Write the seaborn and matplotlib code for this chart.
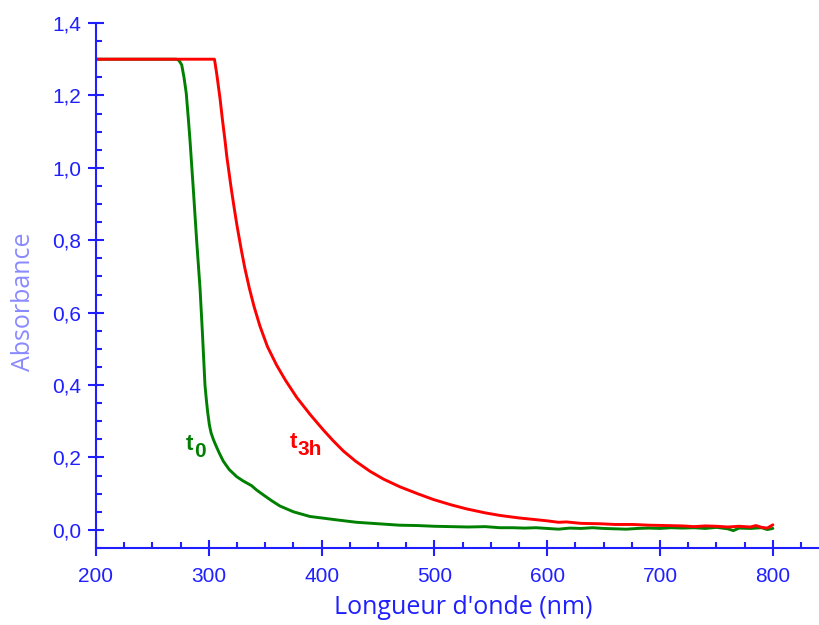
import numpy as np
import pandas as pd
import matplotlib
matplotlib.use("Agg")
import matplotlib.pyplot as plt
import seaborn as sns
from matplotlib.ticker import MultipleLocator, FuncFormatter

# ---- data ----
t0_wavelength = [200, 271, 273, 274.5, 276, 278, 280, 282, 283.3, 286.3, 289.2, 292.2, 294.2,
                 296.6, 297.8, 299, 300.5, 302, 304, 306, 309, 312.8, 318, 324.7, 330, 334,
                 338, 342.4, 350, 356, 363, 375, 389.7, 400, 415, 431, 450, 469, 485, 500, 515,
                 530, 545, 558, 570, 580, 590, 600, 610, 620, 630, 640, 650, 660, 670, 680,
                 690, 700, 710, 720, 730, 740, 750, 760, 765, 770, 780, 790, 795, 800]
t0_absorbance = [1.30, 1.30, 1.298, 1.292, 1.284, 1.25, 1.206, 1.13, 1.077, 0.939, 0.80, 0.668, 0.552,
                 0.40, 0.36, 0.325, 0.29, 0.268, 0.25, 0.235, 0.214, 0.19, 0.167, 0.147, 0.136, 0.129,
                 0.122, 0.110, 0.093, 0.080, 0.066, 0.050, 0.037, 0.033, 0.027, 0.021, 0.017, 0.013, 0.012,
                 0.010, 0.009, 0.008, 0.009, 0.006, 0.006, 0.005, 0.006, 0.004, 0.002, 0.005, 0.004,
                 0.006, 0.004, 0.003, 0.002, 0.004, 0.005, 0.004, 0.006, 0.005, 0.006, 0.004, 0.007,
                 0.003, -0.002, 0.005, 0.004, 0.006, 0.001, 0.004]

t3h_wavelength = [200, 305, 307, 310, 312, 314.3, 316, 318, 320, 322.3, 325, 329, 332, 335.9,
                  340, 345.3, 352, 360.1, 368, 377.9, 390, 401.5, 410, 419.2, 430, 442.8, 455,
                  469.4, 485, 499, 515, 528.5, 545, 558, 575, 587.6, 600, 610, 617, 630, 646.7,
                  660, 676, 690, 705.8, 720, 730, 740, 750, 760, 770, 780, 785, 790, 795, 800]
t3h_absorbance = [1.30, 1.30, 1.26, 1.19, 1.135, 1.077, 1.03, 0.985, 0.94, 0.893, 0.84, 0.77, 0.722,
                  0.668, 0.618, 0.563, 0.506, 0.455, 0.413, 0.366, 0.318, 0.276, 0.247, 0.218,
                  0.190, 0.162, 0.140, 0.119, 0.10, 0.084, 0.069, 0.058, 0.047, 0.040, 0.033,
                  0.029, 0.025, 0.021, 0.022, 0.018, 0.017, 0.015, 0.015, 0.013, 0.012, 0.011,
                  0.009, 0.011, 0.010, 0.008, 0.010, 0.008, 0.012, 0.007, 0.005, 0.014]

x_ticks = [200, 300, 400, 500, 600, 700, 800]
y_ticks = [0.0, 0.2, 0.4, 0.6, 0.8, 1.0, 1.2, 1.4]

df = pd.concat([
    pd.DataFrame({"wl": t0_wavelength, "abs": t0_absorbance, "serie": "t0"}),
    pd.DataFrame({"wl": t3h_wavelength, "abs": t3h_absorbance, "serie": "t3h"}),
])

sns.set_theme(style="white")
plt.rcParams['font.family'] = ['Liberation Sans', 'DejaVu Sans']

AX_BLUE = "#1f1fff"
fig = plt.figure(figsize=(8.2, 6.25), dpi=100)
ax = fig.add_axes([96/820, 77/625, 722/820, 525/625])

sns.lineplot(data=df, x="wl", y="abs", hue="serie",
             palette={"t0": "#008000", "t3h": "#ff0000"},
             linewidth=2.1, legend=False, ax=ax, sort=False, estimator=None)

ax.set_xlim(200, 840)
ax.set_ylim(-0.05, 1.4)
ax.set_xticks(x_ticks)
ax.set_yticks(y_ticks)
ax.xaxis.set_minor_locator(MultipleLocator(25))
ax.yaxis.set_minor_locator(MultipleLocator(0.05))
ax.yaxis.set_major_formatter(FuncFormatter(lambda v, p: f"{v:.1f}".replace(".", ",")))

for s in ["top", "right"]:
    ax.spines[s].set_visible(False)
for s in ["left", "bottom"]:
    ax.spines[s].set_color(AX_BLUE)
    ax.spines[s].set_linewidth(1.5)

ax.tick_params(axis="both", which="both", bottom=True, left=True, top=False, right=False)
ax.tick_params(axis="both", which="major", direction="inout", length=11.5, width=1.5,
               color=AX_BLUE, labelcolor=AX_BLUE, labelsize=15)
ax.tick_params(axis="both", which="minor", direction="in", length=4, width=1.5,
               color=AX_BLUE)
ax.tick_params(axis="y", which="major", pad=5)
ax.tick_params(axis="x", which="major", pad=8)

ax.set_xlabel("Longueur d'onde (nm)", color=AX_BLUE, fontsize=18,
              family=["Open Sans", "DejaVu Sans"])
ax.set_ylabel("Absorbance", color="#8a8aff", fontsize=18,
              family=["Open Sans", "DejaVu Sans"])
ax.xaxis.set_label_coords((463 - 96) / 722, -(607 - 548) / 525)
ax.yaxis.set_label_coords(-(96 - 24) / 722, (548 - 302) / 525)
ax.xaxis.label.set_va("center")
ax.yaxis.label.set_va("center")

# curve labels
ax.annotate("t", xy=(279.8, 0.221), color="#008000", fontsize=16, fontweight="bold",
            ha="left", va="baseline")
ax.annotate("0", xy=(279.8, 0.221), xytext=(8, -7), textcoords="offset pixels",
            color="#008000", fontsize=15, fontweight="bold", ha="left", va="baseline")
ax.annotate("t", xy=(371.9, 0.227), color="#ff0000", fontsize=16, fontweight="bold",
            ha="left", va="baseline")
ax.annotate("3h", xy=(371.9, 0.227), xytext=(8, -7), textcoords="offset pixels",
            color="#ff0000", fontsize=15, fontweight="bold", ha="left", va="baseline")

ax.grid(False)
ax.set_facecolor("white")
fig.savefig("out.png", dpi=100)
